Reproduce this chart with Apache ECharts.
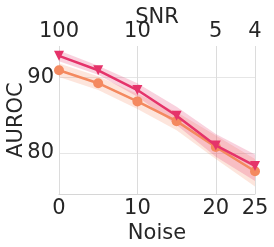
<!DOCTYPE html>
<html><head><meta charset="utf-8">
<script src="https://cdn.jsdelivr.net/npm/echarts@6/dist/echarts.min.js"></script>
<style>html,body{margin:0;padding:0;background:#fff}#c{width:274px;height:247px}</style>
</head><body><div id="c"></div>
<script>
var noise = [0, 5, 10, 15, 20, 25];
var noiseTicks = [0, 10, 20, 25];
var snrLabels = ['100', '10', '5', '4'];
var yTicks = [80, 90];
var meanA = [92.8, 90.9, 88.3, 84.9, 81.0, 78.3];
var lowA = [92.1, 90.3, 87.4, 83.7, 79.5, 76.3];
var highA = [93.5, 91.5, 89.2, 86.1, 82.5, 79.8];
var meanB = [90.9, 89.2, 86.8, 84.2, 80.8, 77.6];
var lowB = [90.0, 88.3, 85.8, 83.0, 79.2, 75.6];
var highB = [91.8, 90.1, 87.8, 85.4, 82.3, 79.2];

var colA = '#e5336a', colB = '#f4895f';
var font = 'DejaVu Sans';
var fs = 21, tc = '#262626';
function pairs(ys){ return noise.map(function(x,i){ return [x, ys[i]]; }); }
function band(lo, hi, color){
  return {
    type: 'custom', silent: true, z: 1,
    data: [0],
    renderItem: function(params, api){
      var pts = [];
      for (var i = 0; i < noise.length; i++) pts.push(api.coord([noise[i], hi[i]]));
      for (var j = noise.length - 1; j >= 0; j--) pts.push(api.coord([noise[j], lo[j]]));
      return {type: 'polygon', shape: {points: pts}, style: {fill: color, opacity: 0.22}};
    }
  };
}

var chart = echarts.init(document.getElementById('c'));
chart.setOption({
  animation: false,
  grid: {left: 59, right: 19, top: 46, bottom: 53, containLabel: false, outerBoundsMode: 'none'},
  xAxis: [{
    type: 'value', min: 0, max: 25, position: 'bottom',
    name: 'Noise', nameLocation: 'middle', nameGap: 29, nameMoveOverlap: false,
    nameTextStyle: {fontFamily: font, fontSize: fs, color: tc},
    axisLine: {show: true, lineStyle: {color: '#d6d6d6', width: 1}},
    axisTick: {show: false, customValues: noiseTicks},
    axisLabel: {customValues: noiseTicks, fontFamily: font, fontSize: fs, color: tc, margin: 4},
    splitLine: {show: true, lineStyle: {color: '#dcdcdc', width: 1}}
  }, {
    type: 'value', min: 0, max: 25, position: 'top',
    name: 'SNR', nameLocation: 'middle', nameGap: 18, nameMoveOverlap: false,
    nameTextStyle: {fontFamily: font, fontSize: fs, color: tc},
    axisLine: {show: false},
    axisTick: {show: false, customValues: noiseTicks},
    axisLabel: {customValues: noiseTicks, fontFamily: font, fontSize: fs, color: tc, margin: 4,
      formatter: function(v){ return snrLabels[noiseTicks.indexOf(v)]; }},
    splitLine: {show: false}
  }],
  yAxis: {
    type: 'value', min: 74.6, max: 94.1,
    name: 'AUROC', nameLocation: 'middle', nameGap: 32, nameMoveOverlap: false,
    nameTextStyle: {fontFamily: font, fontSize: fs, color: tc},
    axisLine: {show: false},
    axisTick: {show: false, customValues: yTicks},
    axisLabel: {customValues: yTicks, fontFamily: font, fontSize: fs, color: tc, margin: 5},
    splitLine: {show: true, lineStyle: {color: '#e6e6e6', width: 1}}
  },
  series: [
    band(lowB, highB, colB),
    band(lowA, highA, colA),
    {type: 'line', data: pairs(meanB), symbol: 'circle', symbolSize: 10, z: 3,
      lineStyle: {color: colB, width: 2.5}, itemStyle: {color: colB}},
    {type: 'line', data: pairs(meanA), symbol: 'triangle', symbolRotate: 180, symbolSize: 10, z: 4,
      lineStyle: {color: colA, width: 2.5}, itemStyle: {color: colA}}
  ]
});
</script></body></html>
